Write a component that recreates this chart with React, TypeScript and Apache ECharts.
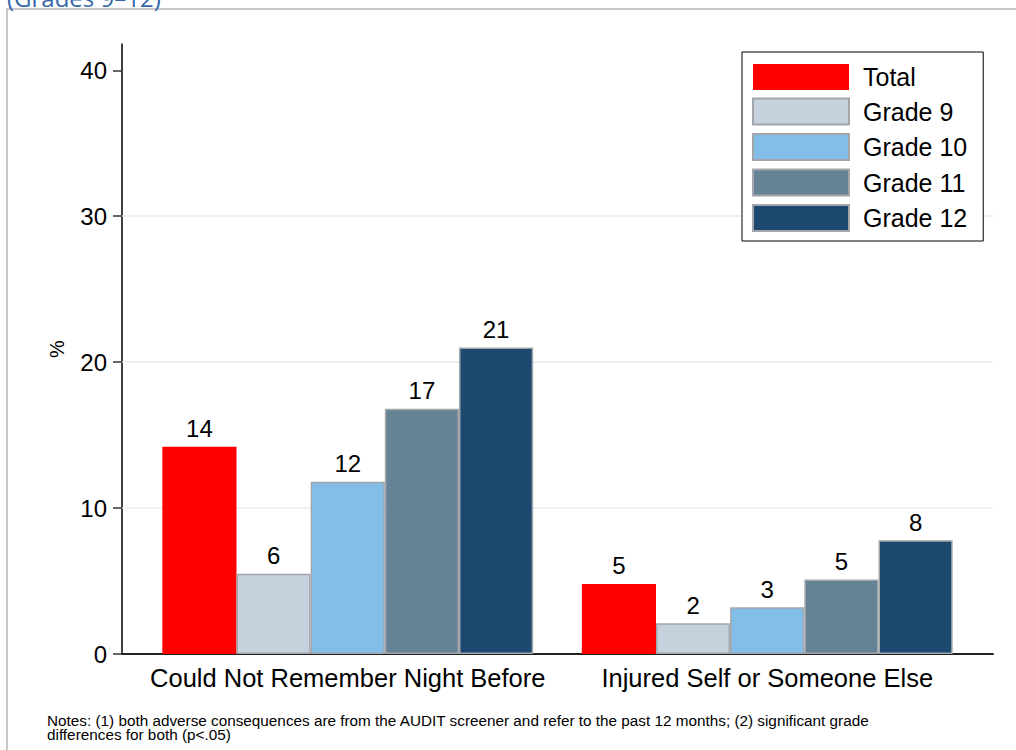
import React, { useEffect, useRef } from 'react';
import * as echarts from 'echarts';

const categories = ['Could Not Remember Night Before', 'Injured Self or Someone Else'];
const seriesNames = ['Total', 'Grade 9', 'Grade 10', 'Grade 11', 'Grade 12'];
const totalValues = [14.2, 4.8];
const grade9Values = [5.5, 2.1];
const grade10Values = [11.8, 3.2];
const grade11Values = [16.8, 5.1];
const grade12Values = [21.0, 7.8];
const yTicks = [0, 10, 20, 30, 40];
const gridValues = [10, 20, 30];
const yMax = 41.8;
const titleText = '(Grades 9\u201312)';
const notesLines = [
  'Notes: (1) both adverse consequences are from the AUDIT screener and refer to the past 12 months; (2) significant grade',
  'differences for both (p<.05)',
];

const seriesValues = [totalValues, grade9Values, grade10Values, grade11Values, grade12Values];
const seriesColors = ['#ff0000', '#c5d1dd', '#82bee8', '#668396', '#1d4870'];
const seriesBorders = ['#ff0000', '#a2a6aa', '#a2a6aa', '#a2a6aa', '#a2a6aa'];

const FONT = '"Liberation Sans", Arial, sans-serif';

export default function App() {
  const ref = useRef<HTMLDivElement>(null);
  useEffect(() => {
    if (!ref.current) return;
    const chart = echarts.init(ref.current, undefined, { renderer: 'svg' });
    const bars = seriesNames.map((name, i) => ({
      name,
      type: 'bar',
      xAxisIndex: 0,
      yAxisIndex: 0,
      data: seriesValues[i],
      barGap: '0%',
      barCategoryGap: '11.6%',
      z: 2,
      itemStyle: {
        color: seriesColors[i],
        borderColor: seriesBorders[i],
        borderWidth: i === 0 ? 0 : 1.5,
      },
      label: {
        show: true,
        position: 'top',
        distance: 6,
        fontSize: 24,
        color: '#000',
        fontFamily: FONT,
        formatter: (p: any) => String(Math.round(p.value)),
      },
    }));
    const option: any = {
      animation: false,
      backgroundColor: '#fff',
      textStyle: { fontFamily: FONT },
      grid: [
        { left: 138, right: 39, top: 44, bottom: 96 },
        { left: 122, right: 23, top: 44, bottom: 96 },
      ],
      xAxis: [
        {
          type: 'category',
          gridIndex: 0,
          data: categories,
          axisLine: { show: false },
          axisTick: { show: false },
          axisLabel: { interval: 0, fontSize: 25.5, color: '#000', margin: 11, fontFamily: FONT },
        },
        {
          type: 'value',
          gridIndex: 1,
          min: 0,
          max: 1,
          axisLine: { show: true, lineStyle: { color: '#222', width: 2 } },
          axisTick: { show: false },
          axisLabel: { show: false },
          splitLine: { show: false },
        },
      ],
      yAxis: [
        { type: 'value', gridIndex: 0, min: 0, max: yMax, show: false, splitLine: { show: false } },
        {
          type: 'value',
          gridIndex: 1,
          min: 0,
          max: yMax,
          interval: 10,
          name: '%',
          nameLocation: 'middle',
          nameRotate: 90,
          nameGap: 55,
          nameTextStyle: { fontSize: 20, color: '#000', fontFamily: FONT },
          axisLine: { show: true, lineStyle: { color: '#000', width: 1.5 } },
          axisTick: { show: true, length: 9, customValues: yTicks, lineStyle: { color: '#333', width: 1.5 } },
          axisLabel: { customValues: yTicks, fontSize: 24, color: '#000', margin: 15, fontFamily: FONT },
          splitLine: { show: false },
        },
      ],
      legend: {
        orient: 'vertical',
        left: 742,
        top: 52,
        data: seriesNames,
        itemWidth: 96,
        itemHeight: 26,
        itemGap: 7.5,
        padding: [12, 16, 9, 10],
        borderColor: '#000',
        borderWidth: 1,
        backgroundColor: '#fff',
        icon: 'rect',
        selectedMode: false,
        textStyle: { fontSize: 25, lineHeight: 26, color: '#000', padding: [0, 0, 0, 9], fontFamily: FONT },
      },
      series: [
        {
          name: 'gridlines',
          type: 'line',
          xAxisIndex: 1,
          yAxisIndex: 1,
          data: [],
          silent: true,
          z: 1,
          markLine: {
            silent: true,
            z: 1,
            symbol: 'none',
            label: { show: false },
            lineStyle: { color: '#e6eef0', width: 1.5, type: 'solid' },
            data: gridValues.map((v) => ({ yAxis: v })),
          },
        },
        ...bars,
      ],
      graphic: [
        {
          type: 'rect',
          silent: true,
          shape: { x: 7, y: 9, width: 1200, height: 900 },
          style: { fill: 'none', stroke: '#c8c8c8', lineWidth: 2 },
        },
        {
          type: 'text',
          x: 7,
          y: 9,
          style: {
            text: titleText,
            font: '24px "Open Sans"',
            fill: '#3567a7',
            verticalAlign: 'bottom',
          },
        },
        ...notesLines.map((line, i) => ({
          type: 'text',
          x: 47,
          y: 714 + i * 14,
          scaleX: 1.093,
          style: {
            text: line,
            fontSize: 14,
            lineHeight: 14,
            fontFamily: FONT,
            fill: '#000',
          },
        })),
      ],
    };
    chart.setOption(option);
    return () => chart.dispose();
  }, []);
  return (
    <div
      ref={ref}
      style={{ position: 'fixed', left: 0, top: 0, width: 1016, height: 750, background: '#fff' }}
    />
  );
}
